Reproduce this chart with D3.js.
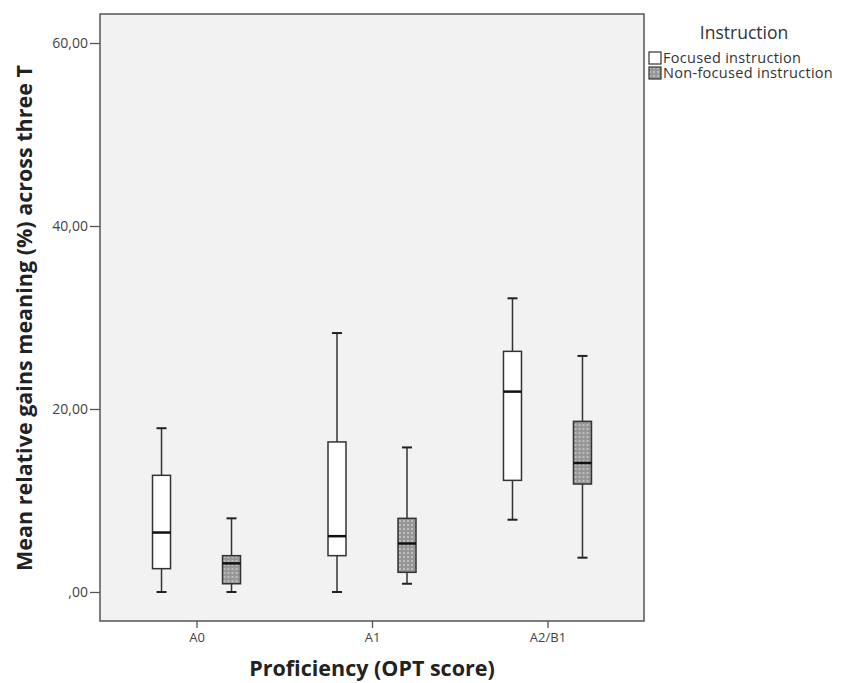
<!DOCTYPE html>
<html>
<head>
<meta charset="utf-8">
<script src="https://cdn.jsdelivr.net/npm/d3@7"></script>
<style>
  body { margin: 0; background: #fff; }
  text { font-family: "Open Sans", "DejaVu Sans", sans-serif; }
</style>
</head>
<body>
<div class="chart"></div>
<script>
// data
const levels = ["A0", "A1", "A2/B1"];
const groups = ["Focused instruction", "Non-focused instruction"];
const yTicks = [0, 20, 40, 60];

// [min, q1, median, q3, max] per level, per group
const focused    = [[0, 2.55, 6.5, 12.75, 17.9], [0, 3.97, 6.1, 16.4, 28.3], [7.9, 12.2, 21.9, 26.3, 32.1]];
const nonFocused = [[0, 0.9, 3.13, 3.97, 8.05], [0.9, 2.15, 5.3, 8.05, 15.8], [3.75, 11.8, 14.1, 18.65, 25.8]];

const width = 843;
const height = 683;
const margin = {left: 100, top: 14, right: 199, bottom: 62};

const svg = d3.select('.chart')
    .append('svg')
    .attr('width', width)
    .attr('height', height)

const defs = svg.append("defs")
const pat = defs.append("pattern")
    .attr("id", "dots")
    .attr("patternUnits", "userSpaceOnUse")
    .attr("width", 4)
    .attr("height", 4)
pat.append("rect").attr("width", 4).attr("height", 4).attr("fill", "#969696")
pat.append("rect").attr("x", 0).attr("y", 0).attr("width", 2).attr("height", 2).attr("fill", "#bdbdbd")

const x = d3.scalePoint()
    .domain(levels)
    .range([margin.left, width - margin.right])
    .padding(0.55)

const y = d3.scaleLinear()
    .domain([-3.17, 63.17])
    .range([height - margin.bottom, margin.top])

const offset = d3.scalePoint()
    .domain(groups)
    .range([-35, 35])

// plot background
svg.append("rect")
    .attr("x", margin.left)
    .attr("y", margin.top)
    .attr("width", width - margin.left - margin.right)
    .attr("height", height - margin.top - margin.bottom)
    .attr("fill", "#f2f2f2")
    .attr("stroke", "#555")
    .attr("stroke-width", 1.5)

// y axis
const yAxis = svg.append("g")
    .attr("transform", "translate(" + margin.left + ",0)")
    .call(d3.axisLeft(y).tickValues(yTicks).tickSize(10).tickPadding(2)
        .tickFormat(function(d) { return d === 0 ? ",00" : d3.format(".2f")(d).replace(".", ","); }))
yAxis.select(".domain").remove()
yAxis.selectAll("line").attr("stroke", "#555").attr("stroke-width", 1.3)
yAxis.selectAll("text").attr("font-size", 14).attr("fill", "#444")
    .style("font-family", "'Open Sans', sans-serif")

// x axis
const xAxis = svg.append("g")
    .attr("transform", "translate(0," + (height - margin.bottom) + ")")
    .call(d3.axisBottom(x).tickSize(7).tickPadding(5))
xAxis.select(".domain").remove()
xAxis.selectAll("line").attr("stroke", "#555").attr("stroke-width", 1.3)
xAxis.selectAll("text").attr("font-size", 13).attr("fill", "#444")
    .style("font-family", "'Open Sans', sans-serif")

// boxes
const boxW = 18;
const series = [
    {name: groups[0], values: focused, fill: "#fff"},
    {name: groups[1], values: nonFocused, fill: "url(#dots)"}
];

series.forEach(function(s) {
    const g = svg.append("g")
        .selectAll("g")
        .data(s.values)
        .enter()
        .append("g")
        .attr("transform", function(d, i) { return "translate(" + (x(levels[i]) + offset(s.name)) + ",0)"; })

    g.append("line")
        .attr("y1", function(d) { return y(d[0]); })
        .attr("y2", function(d) { return y(d[4]); })
        .attr("stroke", "#333")
        .attr("stroke-width", 1.5)
    g.selectAll(".cap")
        .data(function(d) { return [d[0], d[4]]; })
        .enter()
        .append("line")
        .attr("x1", -5).attr("x2", 5)
        .attr("y1", function(d) { return y(d); })
        .attr("y2", function(d) { return y(d); })
        .attr("stroke", "#222")
        .attr("stroke-width", 2)
    g.append("rect")
        .attr("x", -boxW / 2)
        .attr("width", boxW)
        .attr("y", function(d) { return y(d[3]); })
        .attr("height", function(d) { return y(d[1]) - y(d[3]); })
        .attr("fill", s.fill)
        .attr("stroke", "#333")
        .attr("stroke-width", 1.5)
    g.append("line")
        .attr("x1", -boxW / 2).attr("x2", boxW / 2)
        .attr("y1", function(d) { return y(d[2]); })
        .attr("y2", function(d) { return y(d[2]); })
        .attr("stroke", "#111")
        .attr("stroke-width", 2.5)
})

// axis titles
svg.append("text")
    .text("Proficiency (OPT score)")
    .attr("x", x("A1"))
    .attr("y", 676)
    .attr("text-anchor", "middle")
    .attr("font-size", 21.5)
    .attr("font-weight", "bold")
    .attr("fill", "#222")

svg.append("text")
    .text("Mean relative gains meaning (%) across three T")
    .attr("transform", "translate(32,318) rotate(-90)")
    .attr("text-anchor", "middle")
    .attr("font-size", 21.5)
    .attr("font-weight", "bold")
    .attr("fill", "#222")

// legend
svg.append("text")
    .text("Instruction")
    .attr("x", 744)
    .attr("y", 39)
    .attr("text-anchor", "middle")
    .attr("font-size", 17.5)
    .attr("fill", "#333")

const legend = svg.selectAll(".legend")
    .data(series)
    .enter()
    .append("g")
    .attr("transform", function(d, i) { return "translate(649," + (52 + i * 15) + ")"; })
legend.append("rect")
    .attr("width", 12)
    .attr("height", 12)
    .attr("fill", function(d) { return d.fill; })
    .attr("stroke", "#333")
    .attr("stroke-width", 1.2)
legend.append("text")
    .text(function(d) { return d.name; })
    .attr("x", 14)
    .attr("y", 11)
    .attr("font-size", 14.5)
    .attr("letter-spacing", 0.3)
    .attr("fill", "#333")
</script>
</body>
</html>
